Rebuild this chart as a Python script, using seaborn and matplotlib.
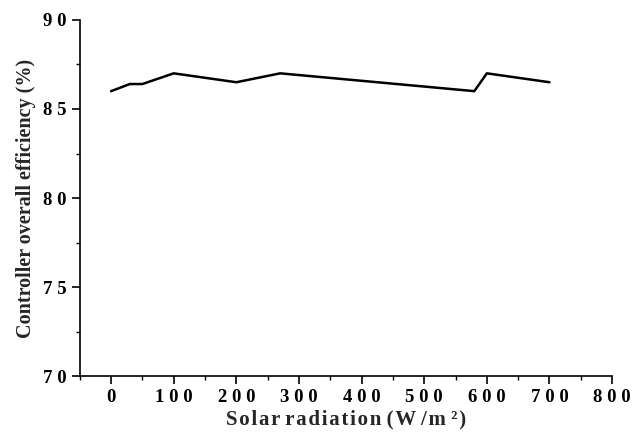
import pandas as pd
import matplotlib.pyplot as plt
import seaborn as sns
from matplotlib.ticker import MultipleLocator, FuncFormatter

# values
radiation = [0, 30, 50, 100, 200, 270, 580, 600, 700]
efficiency = [86.0, 86.4, 86.4, 87.0, 86.5, 87.0, 86.0, 87.0, 86.5]

df = pd.DataFrame({'radiation': radiation, 'efficiency': efficiency})

sns.set_style('ticks')
plt.rcParams['font.family'] = ['Liberation Serif', 'DejaVu Serif']
plt.rcParams['font.weight'] = 'bold'

fig = plt.figure(figsize=(6.33, 4.32), dpi=100)
ax = fig.add_axes([0.126, 0.129, 0.841, 0.825])

sns.lineplot(x='radiation', y='efficiency', data=df, ax=ax, color='black', linewidth=1.8)

ax.set_xlim(-50, 800)
ax.set_ylim(70, 90)
ax.xaxis.set_major_locator(MultipleLocator(100))
ax.xaxis.set_minor_locator(MultipleLocator(50))
ax.yaxis.set_major_locator(MultipleLocator(5))
ax.yaxis.set_minor_locator(MultipleLocator(2.5))

spaced = FuncFormatter(lambda v, p: ' '.join(str(int(round(v)))))
ax.xaxis.set_major_formatter(spaced)
ax.yaxis.set_major_formatter(spaced)

ax.tick_params(which='major', direction='out', length=5.5, width=1.2, labelsize=13.5, colors='black')
ax.tick_params(which='minor', direction='out', length=3, width=1.0, colors='black')
ax.tick_params(axis='y', which='major', pad=4)
for lbl in ax.get_xticklabels() + ax.get_yticklabels():
    lbl.set_fontweight('bold')

sns.despine(ax=ax)
for s in ['left', 'bottom']:
    ax.spines[s].set_linewidth(1.2)
    ax.spines[s].set_color('black')

hair = '\u200a'
words = ['Solar', 'radiation', '(W', '/m', '²)']
xlabel = (' ').join(hair.join(w) for w in words)
ax.set_xlabel(xlabel, fontsize=15, fontweight='bold', labelpad=3)
ax.set_ylabel('Controller overall efficiency (%)', fontsize=14.5, fontweight='bold', labelpad=5)

plt.savefig('out.png', dpi=100)
